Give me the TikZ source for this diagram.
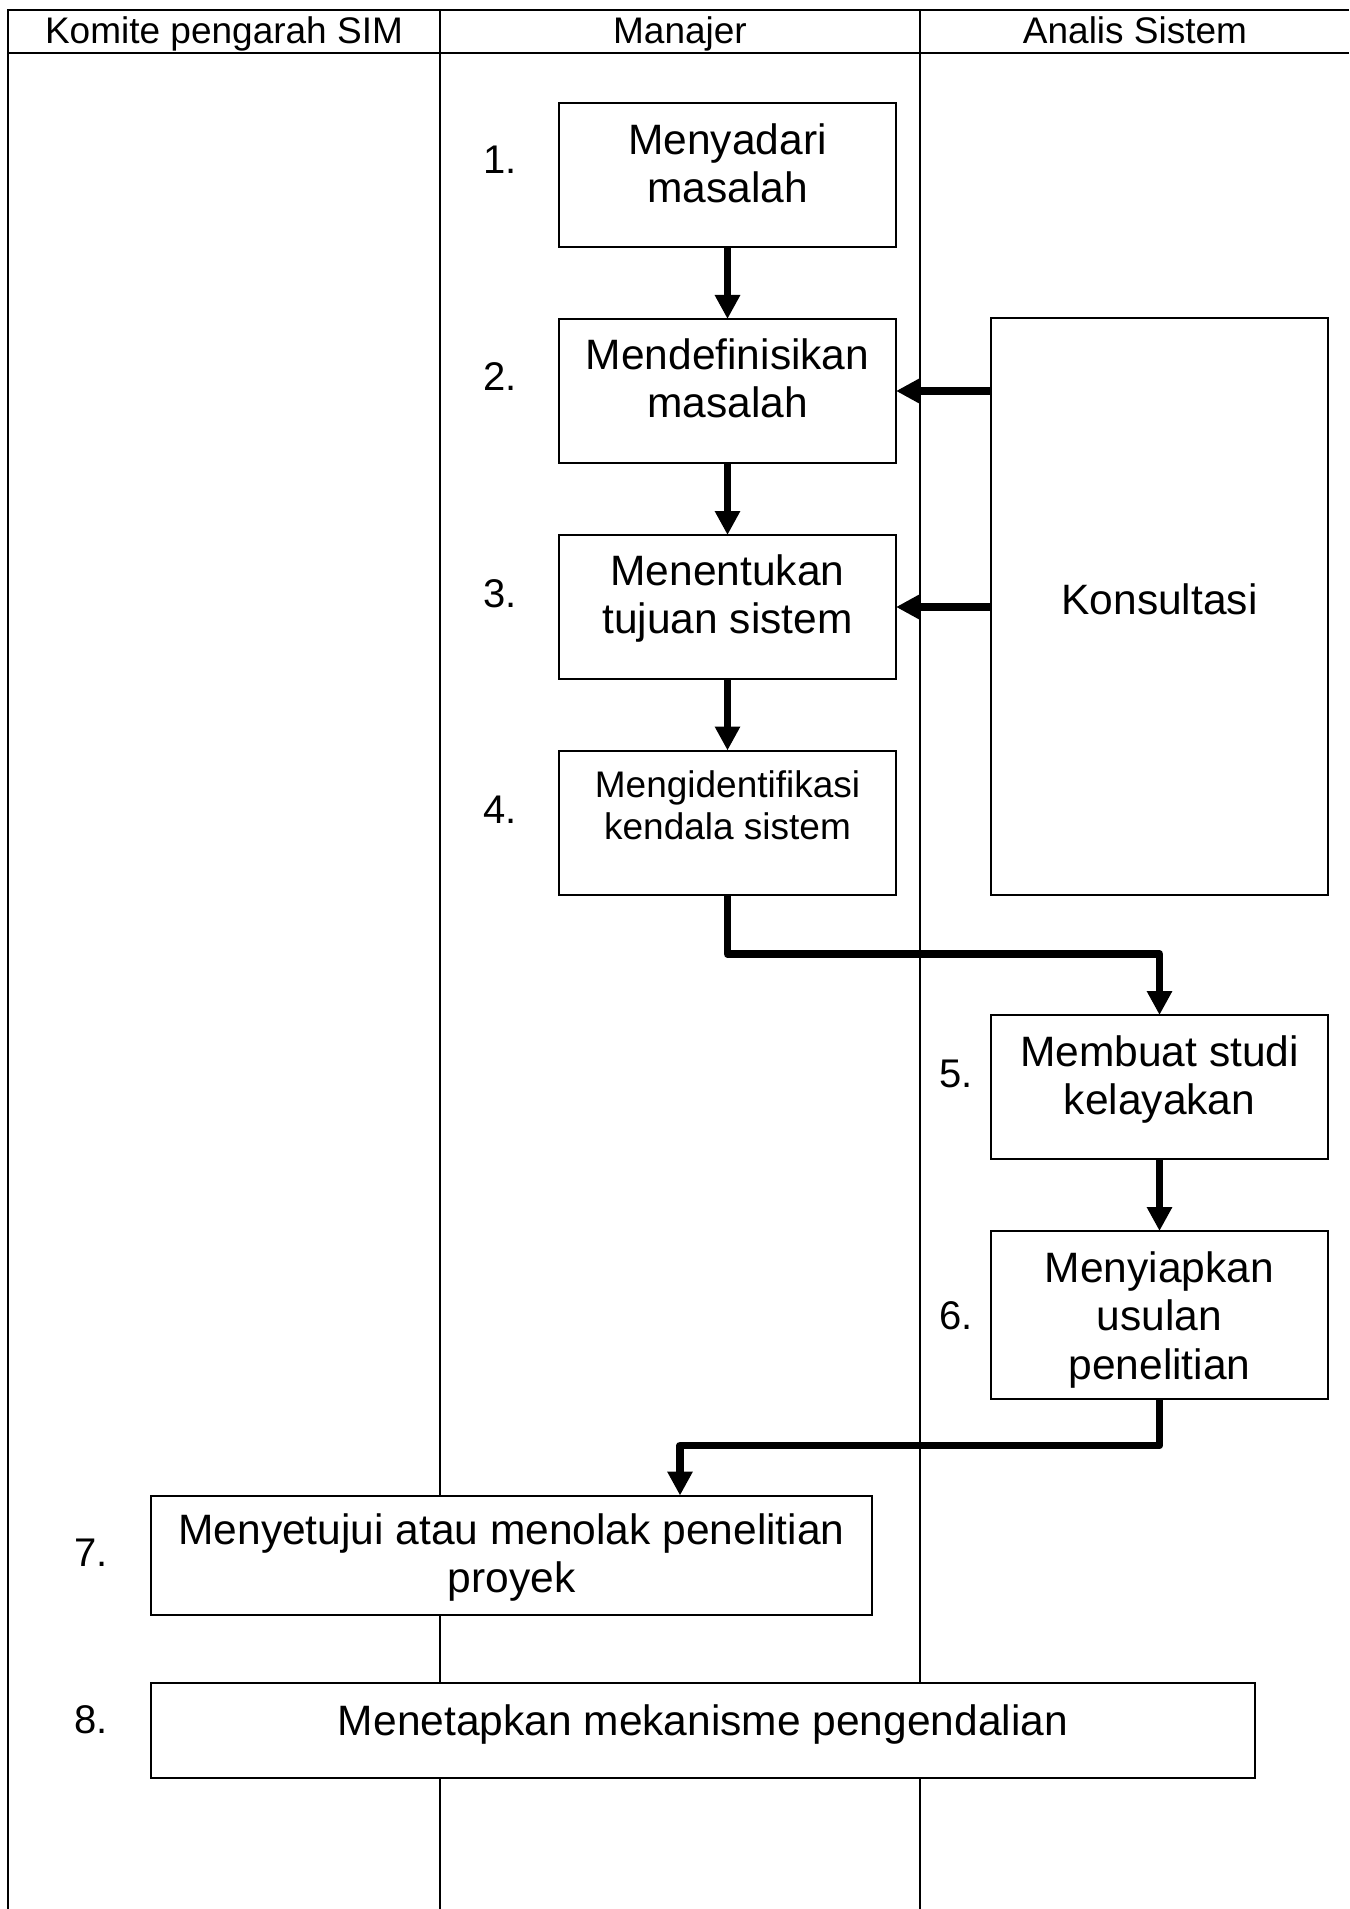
\documentclass[tikz,border=0pt]{standalone}
\usepackage{fontspec}
\setmainfont{Liberation Sans}
\usetikzlibrary{arrows.meta}
\begin{document}
\begin{tikzpicture}[x=0.5pt,y=-0.5pt,
  lane/.style={line width=0.85pt},
  stepbox/.style={draw, line width=1pt, fill=white, rectangle, inner sep=0pt, outer sep=0pt},
  boxtext/.style={align=center, inner sep=0pt, font=\fontsize{21.25}{24.2}\selectfont},
  smalltext/.style={align=center, inner sep=0pt, font=\fontsize{18.5}{21.1}\selectfont},
  onetext/.style={anchor=base, inner sep=0pt, font=\fontsize{21.25}{24.2}\selectfont},
  num/.style={anchor=base, inner sep=0pt, font=\fontsize{20}{23}\selectfont},
  head/.style={anchor=base, inner sep=0pt, font=\fontsize{18.5}{21}\selectfont},
  flow/.style={line width=3.75pt, line join=round, -{Triangle[length=12pt,width=12pt]}}
]
\useasboundingbox (0,0) rectangle (1349,1909);

% swimlane frame and separators
\draw[lane] (8,1909) -- (8,10) -- (1349,10);
\draw[lane] (8,53) -- (1349,53);
\draw[lane] (440,10) -- (440,1909);
\draw[lane] (920,10) -- (920,1909);

% lane headers
\node[head] (h1) at (224,44) {Komite pengarah SIM};
\node[head] (h2) at (680,44) {Manajer};
\node[head] (h3) at (1135,44) {Analis Sistem};

% process boxes
\node[stepbox, minimum width=168.5pt, minimum height=72pt] (b1) at (727.5,175) {};
\node[stepbox, minimum width=168.5pt, minimum height=72pt] (b2) at (727.5,391) {};
\node[stepbox, minimum width=168.5pt, minimum height=72pt] (b3) at (727.5,607) {};
\node[stepbox, minimum width=168.5pt, minimum height=72pt] (b4) at (727.5,822.5) {};
\node[stepbox, minimum width=168.5pt, minimum height=288pt] (k) at (1159.5,606.5) {};
\node[stepbox, minimum width=168.5pt, minimum height=72pt] (b5) at (1159.5,1087) {};
\node[stepbox, minimum width=168.5pt, minimum height=84pt] (b6) at (1159.5,1315) {};
\node[stepbox, minimum width=360.5pt, minimum height=59.5pt] (b7) at (511.5,1555) {};
\node[stepbox, minimum width=552pt, minimum height=47.5pt] (b8) at (703,1730) {};

% box texts
\node[boxtext] (t1) at (727.5,169) {\strut Menyadari\strut\\\strut masalah\strut};
\node[boxtext] (t2) at (727.5,384) {\strut Mendefinisikan\strut\\\strut masalah\strut};
\node[boxtext] (t3) at (727.5,600) {\strut Menentukan\strut\\\strut tujuan sistem\strut};
\node[smalltext] (t4) at (727.5,810) {\strut Mengidentifikasi\strut\\\strut kendala sistem\strut};
\node[onetext] (tk) at (1159.5,614.5) {Konsultasi};
\node[boxtext] (t5) at (1159.5,1081) {\strut Membuat studi\strut\\\strut kelayakan\strut};
\node[boxtext] (t6) at (1159.5,1321) {\strut Menyiapkan\strut\\\strut usulan\strut\\\strut penelitian\strut};
\node[boxtext] (t7) at (511.5,1559) {\strut Menyetujui atau menolak penelitian\strut\\\strut proyek\strut};
\node[onetext] (t8) at (703,1735) {Menetapkan mekanisme pengendalian};

% step numbers
\node[num] (n1) at (500,174) {1.};
\node[num] (n2) at (500,391) {2.};
\node[num] (n3) at (500,607) {3.};
\node[num] (n4) at (500,823) {4.};
\node[num] (n5) at (956,1087.5) {5.};
\node[num] (n6) at (956,1329) {6.};
\node[num] (n7) at (91,1566) {7.};
\node[num] (n8) at (91,1733) {8.};

% flow connectors
\draw[flow] (b1.south) -- (b2.north);
\draw[flow] (b2.south) -- (b3.north);
\draw[flow] (b3.south) -- (b4.north);
\draw[flow] (k.west |- b2.east) -- (b2.east);
\draw[flow] (k.west |- b3.east) -- (b3.east);
\draw[flow] (b4.south) -- ++(0,59.5) -| (b5.north);
\draw[flow] (b5.south) -- (b6.north);
\coordinate (j7) at (680,1445.5);
\draw[flow] (b6.south) |- (j7) -- (j7 |- b7.north);
\end{tikzpicture}
\end{document}
